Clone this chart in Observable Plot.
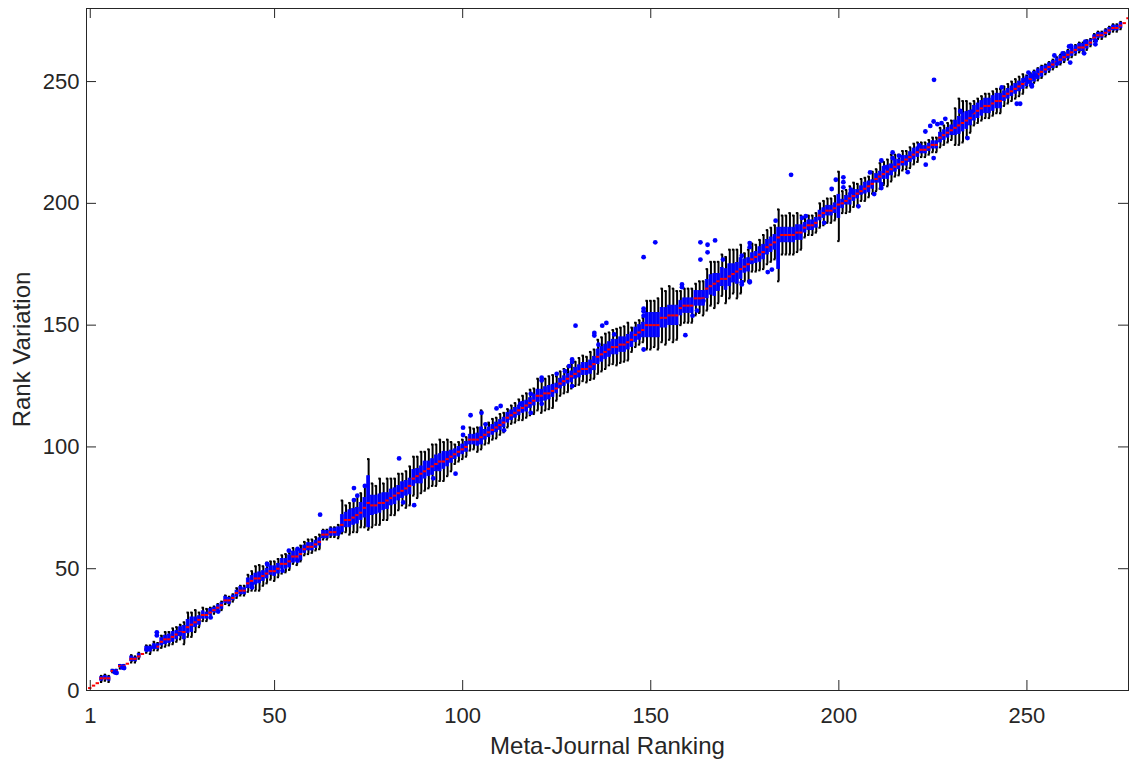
<!DOCTYPE html>
<html><head><meta charset="utf-8">
<script src="https://cdn.jsdelivr.net/npm/d3@7"></script>
<script src="https://cdn.jsdelivr.net/npm/@observablehq/plot@0.6"></script>
<style>body{margin:0;background:#fff} svg{display:block}</style>
</head><body><div id="chart"></div>
<script>
const xTicks = [1, 50, 100, 150, 200, 250];
const yTicks = [0, 50, 100, 150, 200, 250];
const xLabel = "Meta-Journal Ranking";
const yLabel = "Rank Variation";

// median per journal (rank 1..277)
const medians = [
  1,2,3,5,5,5,8,8,10,10,
  11,13,13,14,15,17,17,18,18,20,
  21,21,22,23,24,24,26,27,28,29,
  31,31,32,33,34,35,37,37,38,40,
  41,41,44,45,46,46,47,48,49,49,
  50,52,52,53,55,55,56,58,59,59,
  60,61,64,64,65,65,65,68,70,70,
  71,72,73,75,77,76,76,77,77,78,
  79,80,81,82,83,84,87,88,89,90,
  91,92,93,94,94,95,96,97,98,99,
  100,103,103,103,104,105,106,107,108,109,
  110,112,113,114,115,116,117,118,119,121,
  121,122,122,123,124,126,127,128,129,130,
  131,132,132,133,134,137,138,139,140,141,
  141,142,142,143,144,146,147,148,150,150,
  150,150,153,153,154,154,154,157,158,158,
  158,161,161,161,165,166,167,168,169,169,
  170,171,172,173,174,175,177,178,179,180,
  182,183,184,186,187,187,187,187,188,188,
  190,191,191,192,195,196,197,197,198,199.5,
  200,201,202,203,204,205,206,207,208,210,
  211,212,213,214,215,216,217,218,219,220,
  221,222,222,223,224,224,227,228,229,230,
  231,232,233,234,235,237,238,239,240,240,
  241,242,242,244,245,246,247,248,249,250,
  251,252,253,254,255,256,257,258,259,260,
  261,262,263,264,264,265,266,268,269,269,
  270,271,272,272,273,274,276
];
// distance from median down to lower quartile
const boxDown = [
  0,0,0,1,0.5,1,0.5,0.5,0.5,0.5,
  0,1,1,0.5,0,1,1,1,1,1.5,
  2,1.5,2,2,1.5,3,2.5,3,2,2,
  1.5,1.5,1,1,1,1.5,1,1.5,1,1.5,
  1.5,1.5,2,2,2.5,2,2,2,1.5,2,
  2,2,2,2.5,2.5,2,2.5,1.5,1.5,1.5,
  1.5,1.5,1.5,1.5,1.5,1.5,1.5,3,3,3,
  3,3.5,3,4,10,4,3.5,4,3,3.5,
  3,3.5,3,3,3,3.5,3,3,4,3,
  3,3.5,3,4,3,3,2.5,2,2,2,
  2,2,2,2.5,3,2,2,2,2,2,
  2,2,2,2,2,2,2.5,2,2,2.5,
  2.5,3,2.5,2.5,2,2,2,2,2.5,2,
  2.5,2.5,2.5,3,2.5,3,3,3,3,3,
  3,3,3,3,3,3,3,3,5,5,
  5,5,4,4,4,4,4,3,3,3,
  3,3,3,3,4,3.5,5,4,3,4.5,
  4,3.5,5,4,2.5,3,2,2.5,3,3,
  3,3,3,13,3,3,3,3,3,3,
  2,2,2,2,2,2,2,2,2,5.5,
  2,1.5,2.5,2,2,1.5,2,2.5,2,1.5,
  2.5,2,3,2.5,2,2,1.5,2.5,2,2,
  2,1.5,1.5,1.5,1.5,1.5,2,2,2,2,
  3,3.5,3.5,3.5,3,3,3,3,3,3,
  3,3,3,2,2,2,2,2,2,2,
  2,2,2,2,1.5,1.5,1.5,1.5,1.5,1.5,
  1.5,1.5,1.5,1.5,1.5,1.5,1,1,1,1,
  1,1,1,1,1,0,0
];
// distance from median up to upper quartile
const boxUp = [
  0,0,0,0.5,1,0.5,0.5,0.5,0.5,0.5,
  0,1,0.5,1,0,1,1,1,1,1.5,
  1.5,2,2,1.5,2,2.5,3,3,2,1.5,
  1.5,1,1.5,1,1,1,1.5,1,1,1,
  1.5,1,2,2,2,2.5,2,2,2,2,
  2,2,2,2.5,2,2.5,2,1.5,1.5,1.5,
  1.5,1.5,1.5,1.5,1.5,1.5,2,4,3,4,
  3.5,3,4,4,11,4,4,3.5,4,3,
  3.5,3,3,3.5,3,3,3.5,3,3,4,
  3,3,3.5,3,4,3,2.5,2,2,2,
  2,2,2,2.5,4,2,2,2,2,2,
  2,2,2,2,2,2.5,2,2,2.5,2.5,
  2.5,2.5,3,2.5,2,2,2,2,2,2.5,
  2.5,2.5,2.5,2.5,3,3,3,3,3,3,
  3,3,3,3,3,3,3,3,5,5,
  5,5,4,4,4,4,4,3,3,3,
  3,3,3,3,3.5,4.5,4,3,4.5,4,
  5,4,3.5,4.5,3,2.5,2.5,2,3,3,
  3,3,3,4,3,3,3,3,3,3,
  2,2,2,2,2,2,2,2,2,4,
  1.5,2,2,2.5,1.5,2,2.5,2,1.5,2,
  2,3,2.5,2,3,2,2.5,1.5,2,2.5,
  2,1.5,1.5,1.5,1.5,1.5,2,2,2,2,
  3,3.5,4,3.5,3,3,3,3,3,3,
  3,3,3,2,2,2,2,2,2,2,
  2,2,2,2,1.5,1.5,1.5,1.5,1.5,1.5,
  1.5,1.5,1.5,1.5,1.5,1.5,1,1,1,1,
  1,1,1,1,1,0,0
];
// distance from median down to lower whisker end
const whiskDown = [
  0,0,0,1.5,1,1.5,0.5,0.5,1,0.5,
  0,1.5,1.5,1,0,1.5,2,1.5,1.5,2.5,
  3,2.5,3,3,3,5,4,5,4,3,
  2.5,2.5,2,1.5,1.5,2,1.5,2,1.5,2,
  2,2,3.5,4,5,5,4,4,3.5,4,
  3.5,4,3.5,3.5,3,3.5,3,2.5,3,2.5,
  2.5,3,2,2,2,2,2.5,3.5,5,6,
  6,7,6,8,11,9,8,9,7,8,
  7,8,7,6,8,8,7,9,8,8,
  8,8,9,8,8,7,6,4,4,4,
  4,4.5,4,5,5,4,4.5,4,4.5,4,
  4,4,3.5,4,4,5,5,5,5.5,6,
  7,7,6.5,7,5,5,5,5.5,5,5,
  5.5,5,5.5,5.5,6,7,7,7,6.5,7,
  7.5,7.5,7,7.5,5,5,5,5,10,10,
  9,10,10,11,10,11,10,7,7,7,
  7,7,6,7,9,8,10,9,7,10,
  9,8,11,10,6,7,5,6,6.5,7,
  7,7,7,18,8,8,8,8,8,7,
  4,4,4,4,5,5,5,5,5,15,
  4,5,5.5,4.5,5,4,5,4.5,4,5,
  5,4.5,6,5,4,4.5,3.5,4,4.5,4,
  4,3,3,3,3,3,4,4,4,4,
  7,8,8,7,6,5,5,5,5,5,
  5,5,5,4,4,4,4,4,4,2.5,
  2.5,2.5,2.5,2.5,2,2,2,2,2,2,
  2,2,2,2,2,2,1.5,1.5,1.5,1.5,
  1.5,1.5,1.5,1.5,1.5,0,0
];
// distance from median up to upper whisker end
const whiskUp = [
  0,0,0,1,1.5,1,0.5,0.5,0.5,0.5,
  0,1.5,1,1.5,0,1.5,1.5,2,1.5,2.5,
  3,3,3.5,3,3,4,6,5,5,3,
  3,2.5,2,1.5,1.5,1.5,2,1.5,1.5,2,
  2,2,3.5,4,5,5.5,4,4.5,4,4,
  4,3.5,4,3.5,3.5,3,3.5,3,3,3,
  3,3,2,2,2,2,3,10,6,7,
  7,8,8,9,18,9,8,10,8,9,
  8,7,8,7,7,8,9,8,9,8,
  8,9,8,9,8,8,6,4,4,4,
  4,5,4.5,5,11,4.5,4,4.5,4,4.5,
  4,3.5,4,4,4.5,5,5,5.5,5,7,
  7,6,7,6.5,5,5,5,5,5.5,5,
  5.5,5.5,5,6,6,7,7,7.5,7,7,
  7.5,7,7.5,8,5,5,5,5,10,10,
  10,11,12,11,12,11,10,7,7,7,
  7,6,7,7,8,10,9,8,10,9,
  11,10,9,10,5.5,6,6.5,5,6,7,
  7,7,7,11.5,8,8,9,8,8,7,
  4,4,4,4,5,5,5,5,5,13.5,
  5,4.5,5,5.5,4,5,4.5,4,5,4,
  5.5,5,5,6,5,4,4.5,3.5,4,4.5,
  4,3,3,3,3,3,4,4,4,4,
  8,11,9,8,6,5,5,5,5,5,
  5,5,5,4,4,4,4,4,4,2.5,
  2.5,2.5,2.5,2.5,2,2,2,2,2,2,
  2,2,2,2,2,2,1.5,1.5,1.5,1.5,
  1.5,1.5,1.5,1.5,1.5,0,0
];
// outliers: [journal rank, rank value]
const outliers = [
  [7.5,7.5],[8,7.2],[9.5,9.4],[10,9.2],[16,16.8],[16.8,17.2],[18,18],[18.7,23.9],[18.7,22.6],[24.8,23.2],
  [33,30],[35,32.4],[44,42.3],[44,43.7],[48,52],
  [48.1,51.7],[52.1,49.2],[53.8,57.4],[56.1,58.1],[56.1,53.3],[62.1,72.2],[67.1,64.9],[71.1,83.1],[71.1,78.2],[72,80],
  [74,84],[83.1,95.3],[84.2,77.2],[87.1,76.1],[92.2,87.1],[93.3,91.6],
  [98.1,89],[100.1,107.9],[100.1,104.9],[102.1,113],[105,114],[106.1,109.3],[109,115.8],[110.1,116.8],[111,106.8],
  [115.4,117.7],[118.1,121.8],[118.1,114],[121,128.4],[121,127.3],[121,117.7],[125,130],[127.2,131.1],[128.3,133.2],
  [129.1,125],[129.1,135.9],[129.1,134.9],[130,149.8],[135,146.8],[135,145.7],[136.1,142],[137.1,149.8],[138.2,150.9],
  [140.3,146.2],[148.1,140],[148.1,156.8],[148.1,155.7],[148.1,153.9],[148.1,177.9],[151.2,184],[158.3,166.7],
  [158.3,165.6],[159.2,145.9],[161.1,153.9],[162.3,156],[163.2,184],[163.2,176.9],[164,160],[165.1,183],[165.1,179.9],
  [167.1,184.8],[169.2,176.9],[174.2,178.5],[174.2,167.6],[174.2,166.7],[176.3,183.7],[176.3,182],[176.3,168],
  [176.3,167.6],[181.1,171.8],[182.2,172.8],[183.2,192.9],[187.3,211.7],
  [190.2,194],[191.2,194.7],[196.1,192],[198.1,205.9],[199.2,209.7],[201.2,210.7],[201.2,208.7],[201.2,206.6],
  [203.2,205.6],[203.2,204.6],[205.2,198.8],[208.3,212.7],[209.4,203.8],[211.3,217.6],[211.3,207.9],[211.3,206.3],
  [212.2,214.8],[214.3,220.9],[214.3,218.6],[216,219.5],[218.3,212.8],[221.4,223.8],[223.1,215.9],[223,229.5],
  [224.3,231.8],[225.2,233.6],[225.3,250.7],[225.2,218.6],[226.2,232.5],[227.3,232.9],[228.3,234.7],[232.3,237.7],
  [232.3,238],[234.2,226.8],[235.4,237.7],[243.3,247.6],[247.3,240.9],[248.2,240.9],[250.4,253.7],[249.3,250.7],
  [250.2,250],[251.3,248.6],[252.4,252.5],[251.5,252.1],[251.3,248],[257.3,260.7],[259.5,261.6],[261.2,264.4],
  [261.7,264.6],[261.5,257.8],[265.5,266.4],[265.2,261.6],[258.1,257.5],[268.2,265.3],[268.3,266.8]
];

const rows = medians.map((m, i) => ({
  rank: i + 1, med: m,
  q1: m - boxDown[i], q3: m + boxUp[i],
  lo: m - whiskDown[i], hi: m + whiskUp[i]
}));
const whisk = rows.filter(d => d.hi > d.lo);
const boxes = rows.filter(d => d.q3 > d.q1);

const W = 1129, H = 763, mL = 86, mR = 1, mT = 8, mB = 73;
const iw = W - mL - mR, ih = H - mT - mB;
const ink = "#262626";

const chart = Plot.plot({
  width: W, height: H,
  marginLeft: mL, marginRight: mR, marginTop: mT, marginBottom: mB,
  style: {fontFamily: "'Liberation Sans', Arial, Helvetica, sans-serif", fontSize: "22px", color: ink, background: "#fff", overflow: "visible"},
  x: {domain: [0, 277]},
  y: {domain: [0, 280]},
  marks: [
    Plot.ruleX(whisk, {x: "rank", y1: "lo", y2: "hi", stroke: "black", strokeWidth: 2}),
    Plot.ruleY(whisk, {y: "lo", x1: d => d.rank - 0.3, x2: d => d.rank + 0.3, stroke: "black", strokeWidth: 2}),
    Plot.ruleY(whisk, {y: "hi", x1: d => d.rank - 0.3, x2: d => d.rank + 0.3, stroke: "black", strokeWidth: 2}),
    Plot.rect(boxes, {x1: d => d.rank - 0.38, x2: d => d.rank + 0.38, y1: "q1", y2: "q3", fill: "#0000ff", stroke: "#0000ff", strokeWidth: 0.8}),
    Plot.ruleY(rows, {y: "med", x1: d => d.rank - 0.45, x2: d => d.rank + 0.45, stroke: "#ff0000", strokeWidth: 2}),
    Plot.dot(outliers, {x: d => d[0], y: d => d[1], r: 2.4, fill: "#0000ff"}),
    Plot.frame({stroke: ink}),
    Plot.tickX(xTicks, {x: d => d, insetTop: ih - 10, stroke: ink}),
    Plot.tickX(xTicks, {x: d => d, insetBottom: ih - 10, stroke: ink}),
    Plot.tickY(yTicks, {y: d => d, insetRight: iw - 10, stroke: ink}),
    Plot.tickY(yTicks, {y: d => d, insetLeft: iw - 10, stroke: ink}),
    Plot.axisX(xTicks, {tickSize: 0, tickPadding: 17, label: null, fill: ink, fontSize: 22}),
    Plot.axisY(yTicks, {tickSize: 0, tickPadding: 7, label: null, fill: ink, fontSize: 22}),
    Plot.text([xLabel], {frameAnchor: "bottom", dy: 56, fontSize: 24, fill: ink, lineAnchor: "middle", textAnchor: "middle"}),
    Plot.text([yLabel], {frameAnchor: "left", dx: -64, rotate: -90, fontSize: 24, fill: ink, lineAnchor: "middle", textAnchor: "middle"})
  ]
});
document.getElementById("chart").appendChild(chart);
</script>
</body></html>
